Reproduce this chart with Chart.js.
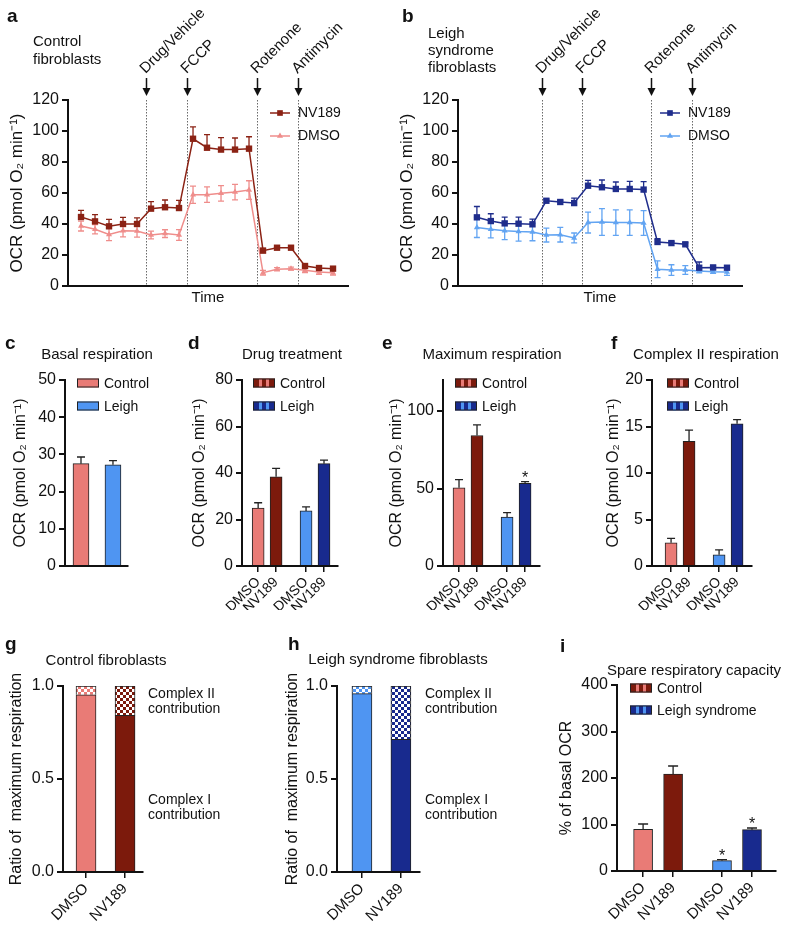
<!DOCTYPE html>
<html>
<head>
<meta charset="utf-8">
<script src="https://cdn.jsdelivr.net/npm/chart.js@4.4.1/dist/chart.umd.min.js"></script>
<style>
  body { margin: 0; background: #fff; width: 788px; height: 925px; position: relative; overflow: hidden;
         font-family: 'Liberation Sans', Arial, Helvetica, sans-serif; color: #111; }
  canvas { position: absolute; }
  .txt { position: absolute; white-space: nowrap; font-size: 15px; line-height: 1; transform: translateY(-50%); }
  .mid { transform: translate(-50%, -50%); }
  .letter { font-weight: bold; font-size: 19px; }
</style>
</head>
<body>
<script>
// ---- time course (a, b): 19 measurements ----
const measurement = [1, 2, 3, 4, 5, 6, 7, 8, 9, 10, 11, 12, 13, 14, 15, 16, 17, 18, 19];
const injections = ['Drug/Vehicle', 'FCCP', 'Rotenone', 'Antimycin'];
const injectionAt = [5.65, 8.6, 13.55, 16.5];

const ctrlNV189 = [44.5, 41.7, 38.5, 40, 40, 49.9, 50.8, 50.3, 95, 89.2, 88, 88, 88.6, 22.8, 24.7, 24.7, 12.9, 11.6, 11.2];
const ctrlNV189Err = [4.3, 4.3, 4.5, 4.3, 4, 4.5, 4.7, 5, 7.6, 8.4, 7.7, 7.5, 7.7, 1.5, 1, 1, 1, 1, 1];
const ctrlDMSO = [38.7, 36.6, 33.3, 35.7, 35.5, 32.9, 33.8, 32.9, 58.9, 58.9, 59.8, 60.6, 61.9, 8.6, 10.8, 11.2, 10.1, 9, 8.6];
const ctrlDMSOErr = [3.2, 3, 4, 4, 4, 2.5, 2.5, 3.5, 5.6, 5, 5, 5, 6, 1.5, 1, 1, 1.5, 1.5, 1.5];
const leighNV189 = [44.3, 41.9, 40.4, 40.2, 39.8, 55, 54.2, 53.5, 64.7, 63.7, 62.6, 62.6, 62.2, 28.4, 27.7, 26.9, 11.8, 12, 11.8];
const leighNV189Err = [7, 4.7, 4, 4.3, 3.4, 1, 1, 3.2, 3.4, 4.7, 4.5, 4.9, 5.2, 2.2, 1, 1, 3.7, 1, 1];
const leighDMSO = [37.8, 36.6, 35.7, 35.1, 34.8, 32.9, 33.1, 31, 40.9, 41.3, 40.9, 40.9, 40.6, 10.8, 10.3, 10.3, 9.7, 9.2, 9];
const leighDMSOErr = [6.5, 5.6, 5.8, 6.2, 5.6, 4.5, 4.7, 3.2, 6.7, 8.6, 8.2, 8.2, 8, 5.4, 3.4, 2.8, 1.2, 1, 2.2];

// ---- bar panels ----
const cellLines = ['Control', 'Leigh'];
const basal = [27.5, 27.2];
const basalErr = [1.8, 1.1];

const treatmentLabels = ['DMSO', 'NV189', 'DMSO', 'NV189'];   // control pair, then Leigh pair
const drugTreatment = [24.9, 38.4, 23.7, 44];
const drugTreatmentErr = [2.3, 3.6, 1.7, 1.5];
const maxRespiration = [50.5, 84.2, 31.5, 53.3];
const maxRespirationErr = [5.2, 6.8, 3, 1.1];
const maxRespirationStar = [false, false, false, true];
const complexIIResp = [2.5, 13.4, 1.2, 15.3];
const complexIIRespErr = [0.47, 1.2, 0.54, 0.43];

const ratioLabels = ['DMSO', 'NV189'];
const ctrlComplexI = [0.953, 0.842];
const ctrlComplexII = [0.047, 0.158];
const leighComplexI = [0.959, 0.713];
const leighComplexII = [0.041, 0.287];

const spareCapacity = [89.6, 208.6, 22.2, 88.9];
const spareCapacityErr = [11.5, 17.2, 2.2, 3.6];
const spareCapacityStar = [false, false, true, true];

// ---- colours ----
const ctrlLight = '#e97b76', ctrlDark = '#7c1a0c';
const leighLight = '#4f95f2', leighDark = '#182a8e';
const lineCtrlDark = '#8b2214', lineCtrlLight = '#ef8d8b';
const lineLeighDark = '#1f2d8c', lineLeighLight = '#62a4f2';
const ink = '#111';
const family = "'Liberation Sans', Arial, Helvetica, sans-serif";
const ocrTitle = 'OCR (pmol O\u2082 min\u207B\u00B9)';

Chart.defaults.font.family = family;
Chart.defaults.color = ink;
Chart.defaults.animation = false;
Chart.defaults.plugins.legend.display = false;
Chart.defaults.plugins.tooltip.enabled = false;

// Error bars, drawn under the marks
const errorBarPlugin = {
    id: 'errorBars',
    beforeDatasetsDraw(chart) {
        const ctx = chart.ctx;
        const y = chart.scales.y;
        chart.data.datasets.forEach((ds, i) => {
            if (!ds.errors) return;
            const meta = chart.getDatasetMeta(i);
            ctx.save();
            ctx.strokeStyle = ds.errColor || '#222';
            ctx.lineWidth = 1.3;
            const cap = (ds.capWidth || 8) / 2;
            meta.data.forEach((el, j) => {
                const v = ds.data[j].y;
                const top = y.getPixelForValue(v + ds.errors[j]);
                const bottom = ds.errBoth ? y.getPixelForValue(v - ds.errors[j]) : el.y;
                ctx.beginPath();
                ctx.moveTo(el.x, bottom);
                ctx.lineTo(el.x, top);
                ctx.moveTo(el.x - cap, top);
                ctx.lineTo(el.x + cap, top);
                if (ds.errBoth) {
                    ctx.moveTo(el.x - cap, bottom);
                    ctx.lineTo(el.x + cap, bottom);
                }
                ctx.stroke();
            });
            ctx.restore();
        });
    },
    afterDatasetsDraw(chart) {
        const ctx = chart.ctx;
        const y = chart.scales.y;
        chart.data.datasets.forEach((ds, i) => {
            if (!ds.stars) return;
            const meta = chart.getDatasetMeta(i);
            ctx.save();
            ctx.fillStyle = ink;
            ctx.font = '16px ' + family;
            ctx.textAlign = 'center';
            meta.data.forEach((el, j) => {
                if (!ds.stars[j]) return;
                const top = y.getPixelForValue(ds.data[j].y + ds.errors[j]);
                ctx.fillText('*', el.x, top + 1);
            });
            ctx.restore();
        });
    }
};

// Injection markers for the time courses
const injectionPlugin = {
    id: 'injections',
    beforeDatasetsDraw(chart, args, opts) {
        if (!opts.at) return;
        const {ctx, chartArea, scales: {x}} = chart;
        opts.at.forEach((t, i) => {
            const px = Math.round(x.getPixelForValue(t)) + 0.5;
            ctx.save();
            ctx.strokeStyle = '#6a6a6a';
            ctx.lineWidth = 1;
            ctx.setLineDash([1.5, 1.5]);
            ctx.beginPath();
            ctx.moveTo(px, chartArea.top);
            ctx.lineTo(px, chartArea.bottom);
            ctx.stroke();
            ctx.setLineDash([]);
            ctx.strokeStyle = ink;
            ctx.lineWidth = 1.5;
            ctx.beginPath();
            ctx.moveTo(px, chartArea.top - 22);
            ctx.lineTo(px, chartArea.top - 10);
            ctx.stroke();
            ctx.fillStyle = ink;
            ctx.beginPath();
            ctx.moveTo(px - 4, chartArea.top - 12);
            ctx.lineTo(px + 4, chartArea.top - 12);
            ctx.lineTo(px, chartArea.top - 4);
            ctx.closePath();
            ctx.fill();
            ctx.translate(px - 1, chartArea.top - 26);
            ctx.rotate(-Math.PI / 4);
            ctx.font = '15px ' + family;
            ctx.textAlign = 'left';
            ctx.fillText(opts.labels[i], 0, 0);
            ctx.restore();
        });
    }
};

function drawMarker(ctx, style, x, y, r) {
    ctx.beginPath();
    if (style === 'rect') {
        const s = r * Math.SQRT1_2;
        ctx.rect(x - s, y - s, 2 * s, 2 * s);
    } else {
        ctx.moveTo(x, y - r);
        ctx.lineTo(x + r * 0.87, y + r * 0.5);
        ctx.lineTo(x - r * 0.87, y + r * 0.5);
        ctx.closePath();
    }
    ctx.fill();
}

// Legends placed inside the plot area
const panelLegendPlugin = {
    id: 'panelLegend',
    afterDraw(chart, args, opts) {
        if (!opts.items) return;
        const {ctx, chartArea} = chart;
        ctx.save();
        ctx.font = '14px ' + family;
        ctx.textBaseline = 'middle';
        opts.items.forEach((it, i) => {
            const x = chartArea.left + opts.dx;
            const y = chartArea.top + opts.dy + i * opts.gap;
            if (it.kind === 'line') {
                ctx.strokeStyle = it.color;
                ctx.fillStyle = it.color;
                ctx.lineWidth = 1.5;
                ctx.beginPath();
                ctx.moveTo(x, y);
                ctx.lineTo(x + 20, y);
                ctx.stroke();
                drawMarker(ctx, it.marker, x + 10, y, it.marker === 'rect' ? 4 : 3.5);
                ctx.fillStyle = ink;
                ctx.fillText(it.label, x + 28, y);
            } else {
                ctx.fillStyle = it.color;
                ctx.fillRect(x, y - 4.5, 22, 9);
                if (it.stripe) {
                    ctx.fillStyle = it.stripe;
                    ctx.fillRect(x + 6, y - 4.5, 3, 9);
                    ctx.fillRect(x + 13, y - 4.5, 3, 9);
                }
                ctx.strokeStyle = '#222';
                ctx.lineWidth = 1;
                ctx.strokeRect(x + 0.5, y - 4, 21, 8);
                ctx.fillStyle = ink;
                ctx.fillText(it.label, x + 27, y + 1);
            }
        });
        ctx.restore();
    }
};

// Side notes for the ratio panels
const sideNotesPlugin = {
    id: 'sideNotes',
    afterDraw(chart, args, opts) {
        if (!opts.lines) return;
        const {ctx, chartArea} = chart;
        ctx.save();
        ctx.font = '14px ' + family;
        ctx.fillStyle = ink;
        ctx.textBaseline = 'middle';
        opts.lines.forEach(l => ctx.fillText(l.text, chartArea.right + opts.dx, chartArea.top + l.dy));
        ctx.restore();
    }
};

Chart.register(errorBarPlugin, injectionPlugin, panelLegendPlugin, sideNotesPlugin);

function addCanvas(left, top, width, height) {
    const c = document.createElement('canvas');
    c.width = width;
    c.height = height;
    c.style.left = left + 'px';
    c.style.top = top + 'px';
    document.body.appendChild(c);
    return c;
}

function addText(text, x, y, cls) {
    const d = document.createElement('div');
    d.className = 'txt ' + (cls || '');
    d.textContent = text;
    d.style.left = x + 'px';
    d.style.top = y + 'px';
    document.body.appendChild(d);
}

function checker(ctx, color) {
    const c = document.createElement('canvas');
    c.width = 6;
    c.height = 6;
    const g = c.getContext('2d');
    g.fillStyle = '#fff';
    g.fillRect(0, 0, 6, 6);
    g.fillStyle = color;
    g.fillRect(0, 0, 3, 3);
    g.fillRect(3, 3, 3, 3);
    return ctx.createPattern(c, 'repeat');
}

function yAxis(o) {
    const ticks = { stepSize: o.step, font: { size: 16 }, padding: 3, color: ink, includeBounds: o.includeBounds !== false };
    if (o.fmt) ticks.callback = o.fmt;
    return {
        min: 0,
        max: o.max,
        stacked: o.stacked,
        afterFit: s => { s.width = o.width; },
        border: { color: ink, width: 2 },
        grid: { drawOnChartArea: false, color: ink, lineWidth: 2, tickLength: 6 },
        ticks: ticks,
        title: { display: true, text: o.title, color: ink, font: { size: o.titleSize || 16 }, padding: { top: o.titlePad, bottom: 0 } }
    };
}

// bars sit at explicit slots on a linear axis; offset off so the slots stay where they are put
function slotAxis(o) {
    return {
        type: 'linear',
        min: o.min,
        max: o.max,
        offset: false,
        stacked: o.stacked,
        afterBuildTicks: s => { s.ticks = o.slots.map(v => ({ value: v })); },
        afterFit: s => { s.height = o.height; },
        border: { color: ink, width: 2 },
        grid: { display: !!o.labels, offset: false, drawOnChartArea: false, color: ink, lineWidth: 1.5, tickLength: 6 },
        ticks: {
            display: !!o.labels, autoSkip: false, minRotation: 45, maxRotation: 45,
            font: { size: o.fontSize || 14 }, padding: 2, color: ink,
            callback: (v, i) => o.labels ? o.labels[i] : ''
        }
    };
}

function points(xs, ys) {
    return ys.map((v, i) => ({ x: xs[i], y: v }));
}

// ---------------- a / b : time courses ----------------
function timeCourse(left, canvasW, plotLeft, plotRight, xmin, xmax, nv, nvErr, dm, dmErr, dark, light) {
    const canvas = addCanvas(left, 0, canvasW, 310);
    return new Chart(canvas.getContext('2d'), {
        type: 'line',
        data: {
            datasets: [{
                label: 'NV189',
                data: points(measurement, nv),
                borderColor: dark, backgroundColor: dark, borderWidth: 1.5,
                pointStyle: 'rect', pointRadius: 4.5, pointBorderWidth: 0,
                errors: nvErr, errColor: dark, capWidth: 6
            }, {
                label: 'DMSO',
                data: points(measurement, dm),
                borderColor: light, backgroundColor: light, borderWidth: 1.5,
                pointStyle: 'triangle', pointRadius: 3.5, pointBorderWidth: 0,
                errors: dmErr, errBoth: true, errColor: light, capWidth: 6
            }]
        },
        options: {
            responsive: false,
            layout: { padding: { top: 100, right: canvasW - (plotRight - left), left: 0, bottom: 0 } },
            scales: {
                x: {
                    type: 'linear', min: xmin, max: xmax,
                    afterFit: s => { s.height = 24; },
                    border: { color: ink, width: 2 },
                    grid: { display: false },
                    ticks: { display: false },
                    title: { display: true, text: 'Time', color: ink, font: { size: 15 }, padding: { top: 0, bottom: 3 } }
                },
                y: yAxis({ max: 120, step: 20, width: plotLeft - left, title: ocrTitle, titleSize: 17, titlePad: 7 })
            },
            plugins: {
                injections: { at: injectionAt, labels: injections },
                panelLegend: {
                    dx: 202, dy: 13, gap: 23,
                    items: [
                        { kind: 'line', label: 'NV189', color: dark, marker: 'rect' },
                        { kind: 'line', label: 'DMSO', color: light, marker: 'triangle' }
                    ]
                }
            }
        }
    });
}

timeCourse(0, 390, 68, 348, 0.07, 20.07, ctrlNV189, ctrlNV189Err, ctrlDMSO, ctrlDMSOErr, lineCtrlDark, lineCtrlLight);
timeCourse(390, 398, 458, 742, -0.36, 20.08, leighNV189, leighNV189Err, leighDMSO, leighDMSOErr, lineLeighDark, lineLeighLight);

// ---------------- c : basal respiration ----------------
const basalSlots = [0, 1];
new Chart(addCanvas(0, 330, 190, 270).getContext('2d'), {
    type: 'bar',
    data: {
        datasets: [{
            data: points(basalSlots, basal),
            backgroundColor: [ctrlLight, leighLight],
            borderColor: '#222', borderWidth: 1, barThickness: 16,
            errors: basalErr, capWidth: 8
        }]
    },
    options: {
        responsive: false,
        layout: { padding: { top: 50, right: 62, left: 0, bottom: 0 } },
        scales: {
            x: slotAxis({ min: -0.5, max: 1.47, slots: basalSlots, height: 34 }),
            y: yAxis({ max: 50, step: 10, width: 65, title: ocrTitle, titlePad: 11 })
        },
        plugins: {
            panelLegend: {
                dx: 12, dy: 3, gap: 23,
                items: [
                    { kind: 'box', label: cellLines[0], color: ctrlLight },
                    { kind: 'box', label: cellLines[1], color: leighLight }
                ]
            }
        }
    }
});

// ---------------- d, e, f : four-bar panels ----------------
const pairSlots = [0, 1, 2.67, 3.67];
const stripedLegend = {
    dx: 12, dy: 3, gap: 23,
    items: [
        { kind: 'box', label: 'Control', color: ctrlDark, stripe: ctrlLight },
        { kind: 'box', label: 'Leigh', color: leighDark, stripe: leighLight }
    ]
};

function fourBars(left, width, plotLeft, plotRight, xmin, xmax, values, errs, stars, yOpts, legendDx) {
    return new Chart(addCanvas(left, 330, width, 280).getContext('2d'), {
        type: 'bar',
        data: {
            datasets: [{
                data: points(pairSlots, values),
                backgroundColor: [ctrlLight, ctrlDark, leighLight, leighDark],
                borderColor: '#222', borderWidth: 1, barThickness: 12,
                errors: errs, stars: stars, capWidth: 8
            }]
        },
        options: {
            responsive: false,
            layout: { padding: { top: 50, right: left + width - plotRight, left: 0, bottom: 0 } },
            scales: {
                x: slotAxis({ min: xmin, max: xmax, slots: pairSlots, labels: treatmentLabels, height: 44 }),
                y: yAxis(Object.assign({ width: plotLeft - left, title: ocrTitle }, yOpts))
            },
            plugins: { panelLegend: Object.assign({}, stripedLegend, { dx: legendDx }) }
        }
    });
}

fourBars(190, 196, 242, 338, -0.9, 4.45, drugTreatment, drugTreatmentErr, null,
    { max: 80, step: 20, titlePad: 0 }, 11);
fourBars(386, 199, 443, 540, -0.89, 4.5, maxRespiration, maxRespirationErr, maxRespirationStar,
    { max: 120, step: 50, includeBounds: false, titlePad: 1 }, 12);
fourBars(585, 203, 652, 752, -1.06, 4.5, complexIIResp, complexIIRespErr, null,
    { max: 20, step: 5, titlePad: 19 }, 15);

// ---------------- g, h : contribution ratios ----------------
const ratioSlots = [0, 1];
function ratioPanel(left, plotLeft, plotRight, xmin, xmax, cI, cII, light, dark, titlePad) {
    const canvas = addCanvas(left, 620, 260, 305);
    const ctx = canvas.getContext('2d');
    return new Chart(ctx, {
        type: 'bar',
        data: {
            datasets: [{
                data: points(ratioSlots, cI),
                backgroundColor: [light, dark],
                borderColor: '#222', borderWidth: 1, barThickness: 20
            }, {
                data: points(ratioSlots, cII),
                backgroundColor: [checker(ctx, light), checker(ctx, dark)],
                borderColor: '#222', borderWidth: 1, barThickness: 20
            }]
        },
        options: {
            responsive: false,
            layout: { padding: { top: 66, right: left + 260 - plotRight, left: 0, bottom: 0 } },
            scales: {
                x: slotAxis({ min: xmin, max: xmax, slots: ratioSlots, labels: ratioLabels, height: 53, stacked: true, fontSize: 15 }),
                y: yAxis({ max: 1, step: 0.5, width: plotLeft - left, stacked: true,
                    title: 'Ratio of  maximum respiration', titlePad: titlePad, fmt: v => v.toFixed(1) })
            },
            plugins: {
                sideNotes: {
                    dx: 5,
                    lines: [
                        { text: 'Complex II', dy: 8 }, { text: 'contribution', dy: 23 },
                        { text: 'Complex I', dy: 114 }, { text: 'contribution', dy: 129 }
                    ]
                }
            }
        }
    });
}

ratioPanel(0, 63, 143, -0.59, 1.46, ctrlComplexI, ctrlComplexII, ctrlLight, ctrlDark, 7);
ratioPanel(260, 337, 420, -0.64, 1.49, leighComplexI, leighComplexII, leighLight, leighDark, 23);

// ---------------- i : spare respiratory capacity ----------------
const spareSlots = [0, 1, 2.63, 3.63];
new Chart(addCanvas(520, 620, 268, 305).getContext('2d'), {
    type: 'bar',
    data: {
        datasets: [{
            data: points(spareSlots, spareCapacity),
            backgroundColor: [ctrlLight, ctrlDark, leighLight, leighDark],
            borderColor: '#222', borderWidth: 1, barThickness: 19,
            errors: spareCapacityErr, stars: spareCapacityStar, capWidth: 10
        }]
    },
    options: {
        responsive: false,
        layout: { padding: { top: 65, right: 12, left: 0, bottom: 0 } },
        scales: {
            x: slotAxis({ min: -0.87, max: 4.43, slots: spareSlots, labels: treatmentLabels, height: 54, fontSize: 15 }),
            y: yAxis({ max: 400, step: 100, width: 97, title: '% of basal OCR', titlePad: 37 })
        },
        plugins: {
            panelLegend: {
                dx: 13, dy: 3, gap: 22,
                items: [
                    { kind: 'box', label: 'Control', color: ctrlDark, stripe: ctrlLight },
                    { kind: 'box', label: 'Leigh syndrome', color: leighDark, stripe: leighLight }
                ]
            }
        }
    }
});

// ---------------- panel letters and titles ----------------
addText('a', 7, 15, 'letter');
addText('Control', 33, 40);
addText('fibroblasts', 33, 58);
addText('b', 402, 15, 'letter');
addText('Leigh', 428, 32);
addText('syndrome', 428, 49);
addText('fibroblasts', 428, 66);
addText('c', 5, 342, 'letter');
addText('Basal respiration', 97, 353, 'mid');
addText('d', 188, 342, 'letter');
addText('Drug treatment', 292, 353, 'mid');
addText('e', 382, 342, 'letter');
addText('Maximum respiration', 492, 353, 'mid');
addText('f', 611, 342, 'letter');
addText('Complex II respiration', 706, 353, 'mid');
addText('g', 5, 643, 'letter');
addText('Control fibroblasts', 106, 659, 'mid');
addText('h', 288, 643, 'letter');
addText('Leigh syndrome fibroblasts', 398, 658, 'mid');
addText('i', 560, 645, 'letter');
addText('Spare respiratory capacity', 694, 669, 'mid');
</script>
</body>
</html>
